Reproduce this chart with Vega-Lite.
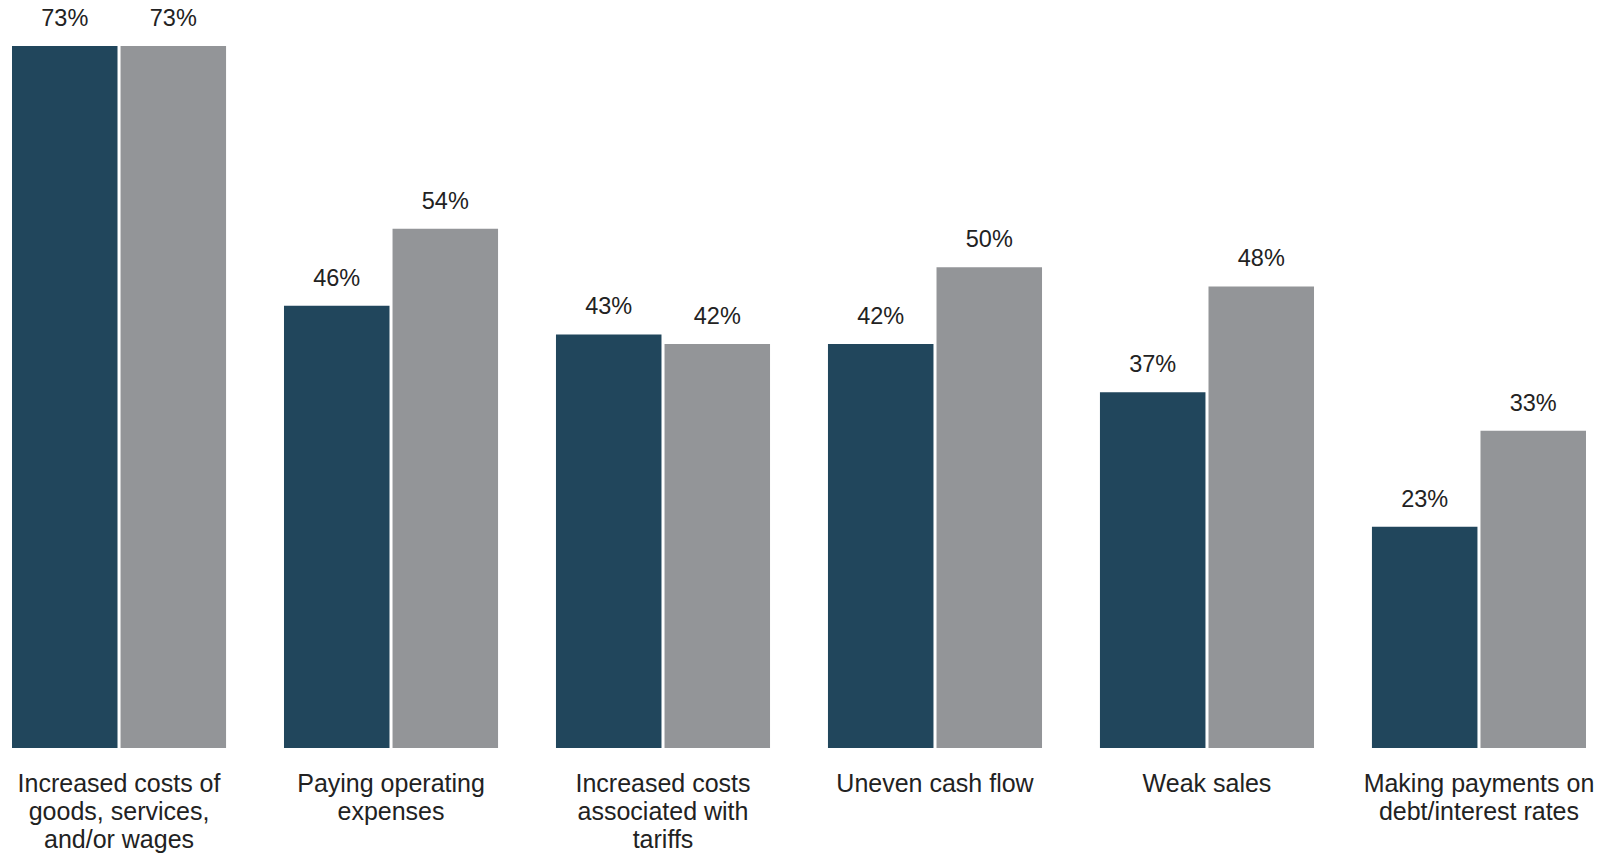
{
  "$schema": "https://vega.github.io/schema/vega-lite/v6.json",
  "autosize": {"type": "none"},
  "width": 1574,
  "height": 702,
  "padding": {"left": 12, "top": 46, "right": 20, "bottom": 105},
  "background": "white",
  "config": {
    "view": {"stroke": null},
    "font": "Liberation Sans"
  },
  "data": {
    "values": [
      {"category": "Increased costs of|goods, services,|and/or wages", "series": "Series 1", "value": 0.73},
      {"category": "Increased costs of|goods, services,|and/or wages", "series": "Series 2", "value": 0.73},
      {"category": "Paying operating|expenses", "series": "Series 1", "value": 0.46},
      {"category": "Paying operating|expenses", "series": "Series 2", "value": 0.54},
      {"category": "Increased costs|associated with|tariffs", "series": "Series 1", "value": 0.43},
      {"category": "Increased costs|associated with|tariffs", "series": "Series 2", "value": 0.42},
      {"category": "Uneven cash flow", "series": "Series 1", "value": 0.42},
      {"category": "Uneven cash flow", "series": "Series 2", "value": 0.50},
      {"category": "Weak sales", "series": "Series 1", "value": 0.37},
      {"category": "Weak sales", "series": "Series 2", "value": 0.48},
      {"category": "Making payments on|debt/interest rates", "series": "Series 1", "value": 0.23},
      {"category": "Making payments on|debt/interest rates", "series": "Series 2", "value": 0.33}
    ]
  },
  "encoding": {
    "x": {
      "field": "category",
      "type": "nominal",
      "sort": null,
      "title": null,
      "scale": {"paddingInner": 0.213, "paddingOuter": 0},
      "axis": {
        "domain": false,
        "ticks": false,
        "labelAngle": 0,
        "labelExpr": "split(datum.label, '|')",
        "labelFontSize": 25,
        "labelColor": "#222222",
        "labelLineHeight": 28,
        "labelPadding": 23,
        "labelLimit": 400,
        "labelFont": "Liberation Sans"
      }
    },
    "xOffset": {"field": "series", "type": "nominal", "scale": {"paddingInner": 0.028}},
    "y": {
      "field": "value",
      "type": "quantitative",
      "scale": {"domain": [0, 0.73], "nice": false, "zero": true},
      "axis": null
    }
  },
  "layer": [
    {
      "mark": {"type": "bar"},
      "encoding": {
        "color": {
          "field": "series",
          "type": "nominal",
          "scale": {"domain": ["Series 1", "Series 2"], "range": ["#21465C", "#939598"]},
          "legend": null
        }
      }
    },
    {
      "mark": {"type": "text", "baseline": "bottom", "dy": -15, "fontSize": 23.5, "color": "#222222", "clip": false},
      "encoding": {
        "text": {"field": "value", "type": "quantitative", "format": ".0%"}
      }
    }
  ]
}
